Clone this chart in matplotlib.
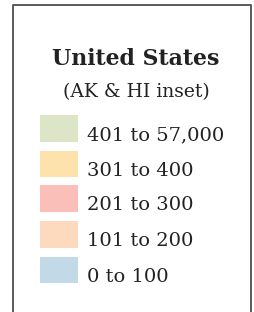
import matplotlib
matplotlib.use('Agg')
import matplotlib.pyplot as plt

# legend data
labels = ['401 to 57,000', '301 to 400', '201 to 300', '101 to 200', '0 to 100']
colors = ['#dce6c6', '#fde3ab', '#f9bfb8', '#fdd9bd', '#c2d9e7']
title = 'United States'
subtitle = '(AK & HI inset)'

plt.rcParams['font.family'] = ['DejaVu Serif']

fig = plt.figure(figsize=(2.54, 3.12), dpi=100)
ax = fig.add_axes([0, 0, 1, 1])
ax.set_xlim(0, 254)
ax.set_ylim(312, 0)
ax.axis('off')

# frame (open at the bottom)
ax.plot([12.5, 12.5, 250.5, 250.5], [320, 5, 5, 320], color='#5a5a5a', lw=1.4)

ax.text(136, 65, title, ha='center', va='baseline', fontsize=15.8,
        fontweight='bold', color='#222222')
ax.text(136, 97, subtitle, ha='center', va='baseline', fontsize=13.5,
        color='#222222')

ys = [128.5, 164, 198.5, 234.5, 270]
ax.barh(ys, [38] * len(ys), left=40, height=26.5, color=colors)
for y, lab in zip(ys, labels):
    ax.text(87, y + 12, lab, ha='left', va='baseline', fontsize=14,
            color='#222222')

fig.savefig('out.png', dpi=100)
